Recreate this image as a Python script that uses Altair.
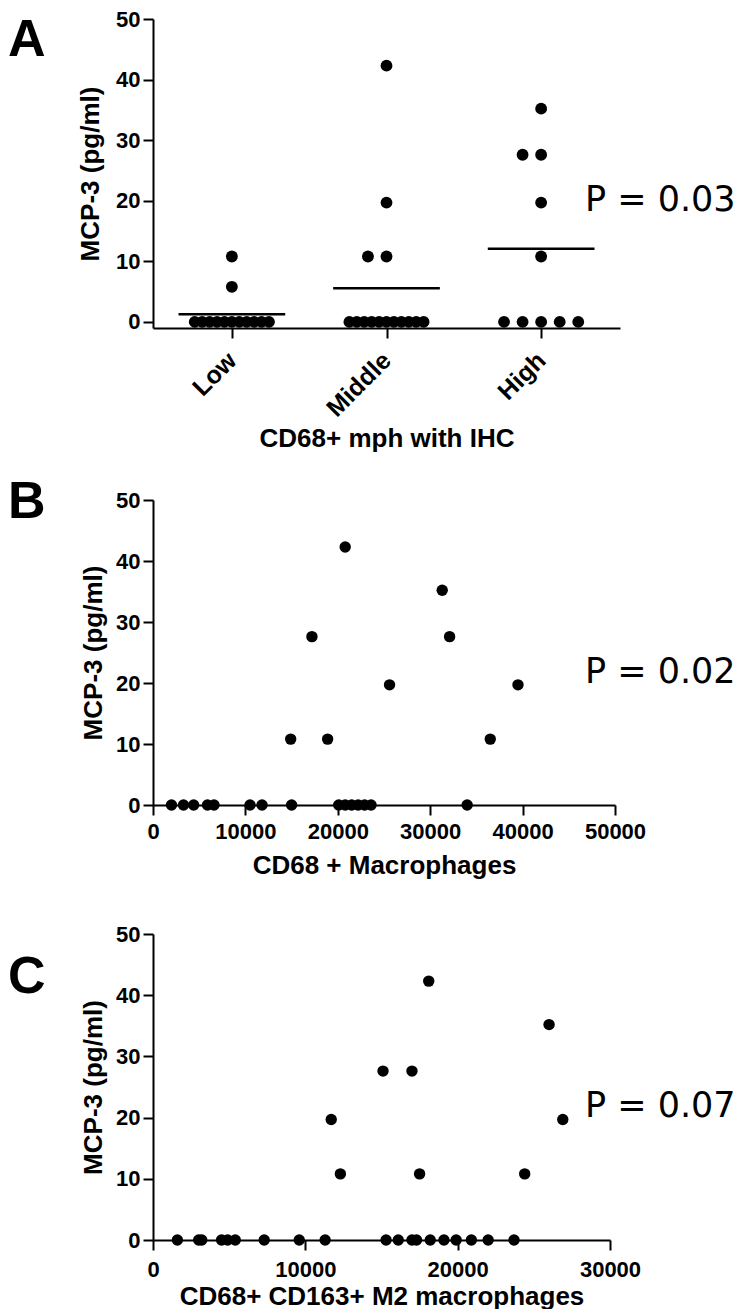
import altair as alt
import pandas as pd
import math

# ---------------- data ----------------
# Panel A: MCP-3 by CD68+ macrophage group (IHC)
groups = ["Low", "Middle", "High"]
low_vals = [10.8, 5.8, 0, 0, 0, 0, 0, 0, 0, 0, 0, 0, 0]
middle_vals = [42.3, 19.7, 10.8, 10.8, 0, 0, 0, 0, 0, 0, 0, 0, 0, 0, 0]
high_vals = [35.2, 27.6, 27.6, 19.7, 10.8, 0, 0, 0, 0, 0]

# Panel B: MCP-3 vs CD68+ macrophages
b_x = [20800, 31300, 17200, 32100, 25600, 39500, 14900, 18900, 36500,
       2000, 3300, 4400, 5900, 6600, 10500, 11800, 15000,
       20100, 20800, 21500, 22200, 22900, 23600, 34000]
b_y = [42.3, 35.2, 27.6, 27.6, 19.7, 19.7, 10.8, 10.8, 10.8,
       0, 0, 0, 0, 0, 0, 0, 0, 0, 0, 0, 0, 0, 0, 0]

# Panel C: MCP-3 vs CD68+ CD163+ M2 macrophages
c_x = [18100, 15100, 17000, 11700, 12300, 17500, 24400, 26000, 26900,
       1600, 3000, 3200, 4500, 4900, 5400, 7300, 9600, 11300, 15300,
       16100, 17000, 17300, 18200, 19100, 19900, 20900, 22000, 23700]
c_y = [42.3, 27.6, 27.6, 19.7, 10.8, 10.8, 10.8, 35.2, 19.7,
       0, 0, 0, 0, 0, 0, 0, 0, 0, 0, 0, 0, 0, 0, 0, 0, 0, 0, 0]

p_values = ["P = 0.03", "P = 0.02", "P = 0.07"]
panel_letters = ["A", "B", "C"]
y_title = "MCP-3 (pg/ml)"
x_titles = ["CD68+ mph with IHC", "CD68 + Macrophages", "CD68+ CD163+ M2 macrophages"]

# ---------------- build tables ----------------
rows = []
for gi, vals in enumerate([low_vals, middle_vals, high_vals]):
    pos = gi + 1
    counts = {}
    for v in vals:
        counts[v] = counts.get(v, 0) + 1
    seen = {}
    for v in vals:
        n = counts[v]
        i = seen.get(v, 0)
        seen[v] = i + 1
        spacing = 0.12 if n < 2 else min(0.12, 0.48 / (n - 1))
        off = (i - math.ceil((n - 1) / 2)) * spacing
        rows.append({"group": groups[gi], "pos": pos, "xpos": pos + off, "value": v})
df_a = pd.DataFrame(rows)
df_b = pd.DataFrame({"x": b_x, "y": b_y})
df_c = pd.DataFrame({"x": c_x, "y": c_y})

FONT = "Liberation Sans"
TICK_FS = 22
TITLE_FS = 26


def y_axis(pad=12):
    return alt.Axis(values=[0, 10, 20, 30, 40, 50], title=y_title, titlePadding=pad,
                    labelPadding=3)


def annotations(idx, letter_y, p_y):
    lab = alt.Chart(pd.DataFrame({"t": [panel_letters[idx]]})).mark_text(
        font=FONT, fontWeight="bold", fontSize=52, align="left", baseline="top", color="black"
    ).encode(text="t:N", x=alt.value(-145), y=alt.value(letter_y))
    pv = alt.Chart(pd.DataFrame({"t": [p_values[idx]]})).mark_text(
        font="DejaVu Sans", fontSize=35, align="left", baseline="middle", color="black"
    ).encode(text="t:N", x=alt.value(432), y=alt.value(p_y))
    return lab, pv


def spacer(top):
    return alt.Chart(pd.DataFrame({"t": [0]})).mark_rule(opacity=0, strokeOpacity=0).encode(
        x=alt.value(0), y=alt.value(top), y2=alt.value(0))


# ---------------- panel A ----------------
xs_a = alt.Scale(domain=[0.49, 3.51], nice=False, zero=False)
ys_a = alt.Scale(domain=[-1, 50], nice=False, zero=False)
label_expr = "[" + ",".join("'%s'" % g for g in groups) + "][datum.value - 1]"

pts_a = alt.Chart(df_a).mark_circle(size=140, color="black", opacity=1).encode(
    x=alt.X("xpos:Q", scale=xs_a,
            axis=alt.Axis(values=[1, 2, 3], labelExpr=label_expr, labelAngle=-45,
                          labelAlign="right", labelBaseline="middle", labelPadding=18,
                          labelFontSize=25, labelFlush=False,
                          title=x_titles[0], titlePadding=4)),
    y=alt.Y("value:Q", scale=ys_a, axis=y_axis(12)),
)
mean_a = alt.Chart(df_a).transform_aggregate(
    mean="mean(value)", groupby=["pos"]
).transform_calculate(
    x1="datum.pos - 0.345", x2="datum.pos + 0.345"
).mark_rule(color="black", strokeWidth=2.5).encode(
    x=alt.X("x1:Q", scale=xs_a), x2="x2:Q", y=alt.Y("mean:Q", scale=ys_a)
)
lab_a, pv_a = annotations(0, -4, 181)
panel_a = alt.layer(pts_a, mean_a, lab_a, pv_a).properties(width=467, height=309)

# ---------------- panel B ----------------
pts_b = alt.Chart(df_b).mark_circle(size=130, color="black", opacity=1).encode(
    x=alt.X("x:Q", scale=alt.Scale(domain=[0, 50000], nice=False),
            axis=alt.Axis(values=[0, 10000, 20000, 30000, 40000, 50000], format="d",
                          labelPadding=6, labelFlush=False,
                          title=x_titles[1], titlePadding=10)),
    y=alt.Y("y:Q", scale=alt.Scale(domain=[0, 50], nice=False), axis=y_axis(9)),
)
lab_b, pv_b = annotations(1, -23, 172)
panel_b = alt.layer(pts_b, lab_b, pv_b).properties(width=462, height=305)

# ---------------- panel C ----------------
pts_c = alt.Chart(df_c).mark_circle(size=130, color="black", opacity=1).encode(
    x=alt.X("x:Q", scale=alt.Scale(domain=[0, 30000], nice=False),
            axis=alt.Axis(values=[0, 10000, 20000, 30000], format="d",
                          labelPadding=9, labelFlush=False,
                          title=x_titles[2], titlePadding=3)),
    y=alt.Y("y:Q", scale=alt.Scale(domain=[0, 50], nice=False), axis=y_axis(9)),
)
lab_c, pv_c = annotations(2, 18, 172)
panel_c = alt.layer(pts_c, lab_c, pv_c, spacer(-32)).properties(width=457, height=306)

chart = alt.vconcat(panel_a, panel_b, panel_c, spacing=24).properties(
    padding={"left": 0, "top": 0, "right": 0, "bottom": 0}
).configure_view(stroke=None).configure_axis(
    grid=False,
    domainColor="black", domainWidth=2,
    tickColor="black", tickWidth=2, tickSize=10,
    labelFont=FONT, labelFontWeight="bold", labelFontSize=TICK_FS, labelColor="black",
    titleFont=FONT, titleFontWeight="bold", titleFontSize=TITLE_FS, titleColor="black",
)

chart.save("out.html", embed_options={"renderer": "svg", "actions": False})
